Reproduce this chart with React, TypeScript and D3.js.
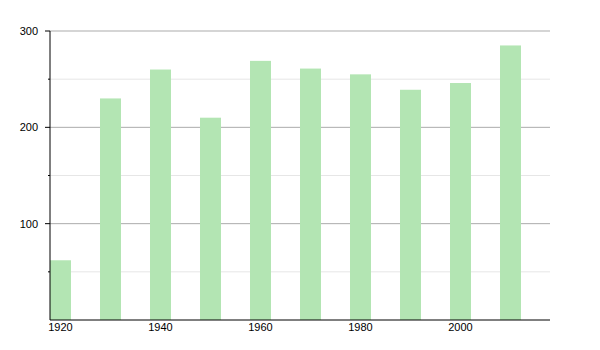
import React from "react";
import * as d3 from "d3";

const years = [1920, 1930, 1940, 1950, 1960, 1970, 1980, 1990, 2000, 2010];
const values = [62, 230, 260, 210, 269, 261, 255, 239, 246, 285];
const majorTicks = [100, 200, 300];
const minorTicks = [50, 150, 250];
const xLabels = [1920, 1940, 1960, 1980, 2000];

export default function App() {
  const width = 600, height = 350;
  const left = 50, right = 550, top = 31, bottom = 320;
  const y = d3.scaleLinear().domain([0, 300]).range([bottom, top]);
  const x = d3.scaleLinear().domain([1920, 2020]).range([left, right]);
  const barW = 21;
  return (
    <svg width={width} height={height} style={{ position: "absolute", left: 0, top: 0 }}
      fontFamily="'Liberation Sans', Arial, sans-serif">
      <rect width={width} height={height} fill="#fff" />
      {minorTicks.map(t => (
        <g key={"m" + t}>
          <line x1={left} x2={right} y1={y(t)} y2={y(t)} stroke="#e6e6e6" />
          <line x1={left - 2} x2={left} y1={y(t)} y2={y(t)} stroke="#000" />
        </g>
      ))}
      {majorTicks.map(t => (
        <g key={"M" + t}>
          <line x1={left} x2={right} y1={y(t)} y2={y(t)} stroke="#ababab" />
          <line x1={left - 5} x2={left} y1={y(t)} y2={y(t)} stroke="#000" />
          <text x={38} y={y(t) + 4} fontSize={11} textAnchor="end" fill="#000">{t}</text>
        </g>
      ))}
      {years.map((yr, i) => (
        <rect key={yr} x={x(yr)} y={y(values[i])} width={barW} height={bottom - y(values[i])}
          fill="#b3e5b3" />
      ))}
      <line x1={left} x2={left} y1={top} y2={bottom} stroke="#000" />
      <line x1={left} x2={right} y1={bottom} y2={bottom} stroke="#000" />
      {xLabels.map(yr => (
        <text key={yr} x={x(yr) + barW / 2} y={331} fontSize={11} textAnchor="middle" fill="#000">{yr}</text>
      ))}
    </svg>
  );
}
